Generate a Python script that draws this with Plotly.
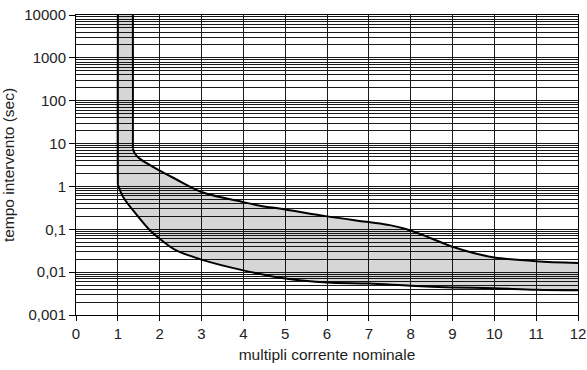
import plotly.graph_objects as go

# Upper boundary of the tripping band
upper_x = [1.36, 1.36, 1.41, 1.53, 1.69, 1.99, 2.37, 3.0, 4.0, 4.4, 5.0, 6.0, 7.0, 7.5, 8.0, 8.5, 9.0, 9.5, 10.0, 11.0, 12.0]
upper_y = [10000, 7.6, 5.8, 4.4, 3.5, 2.36, 1.51, 0.74, 0.43, 0.356, 0.29, 0.20, 0.147, 0.125, 0.094, 0.061, 0.039, 0.028, 0.022, 0.018, 0.0163]

# Lower boundary of the tripping band
lower_x = [1.0, 1.0, 1.13, 1.5, 1.77, 2.0, 2.35, 3.0, 4.0, 5.0, 6.0, 7.0, 8.0, 9.0, 10.0, 11.0, 12.0]
lower_y = [10000, 1.1, 0.56, 0.19, 0.094, 0.060, 0.034, 0.0196, 0.011, 0.0071, 0.0057, 0.0054, 0.0048, 0.0044, 0.0042, 0.0039, 0.0038]

x_ticks = list(range(0, 13))
y_tickvals = [0.001, 0.01, 0.1, 1, 10, 100, 1000, 10000]
y_ticktext = ["0,001", "0,01", "0,1", "1", "10", "100", "1000", "10000"]
y_minor = [m * 10 ** e for e in range(-3, 4) for m in range(2, 10)]

FONT = "Liberation Sans, Arial, Helvetica, sans-serif"
GRID = "#1a1a1a"
SMOOTH = 0.9

fig = go.Figure()

# shaded band: lower curve (invisible) then upper curve filled to it
fig.add_trace(go.Scatter(
    x=lower_x, y=lower_y, mode="lines",
    line=dict(width=0, shape="spline", smoothing=SMOOTH),
    hoverinfo="skip", showlegend=False,
))
fig.add_trace(go.Scatter(
    x=upper_x, y=upper_y, mode="lines", fill="tonexty",
    fillcolor="rgba(0,0,0,0.16)",
    line=dict(width=0, shape="spline", smoothing=SMOOTH),
    hoverinfo="skip", showlegend=False,
))
# boundary lines: straight vertical part + smooth curve part
for xs, ys in ((upper_x, upper_y), (lower_x, lower_y)):
    fig.add_trace(go.Scatter(
        x=xs[:2], y=ys[:2], mode="lines",
        line=dict(color="black", width=2),
        showlegend=False,
    ))
    fig.add_trace(go.Scatter(
        x=xs[1:], y=ys[1:], mode="lines",
        line=dict(color="black", width=2, shape="spline", smoothing=SMOOTH),
        showlegend=False,
    ))

fig.update_layout(
    width=587, height=370,
    margin=dict(l=76, r=9, t=15, b=55),
    paper_bgcolor="white", plot_bgcolor="white",
    font=dict(family=FONT, size=15, color="#222"),
    showlegend=False,
)
fig.update_xaxes(
    range=[0, 12], tickvals=x_ticks, ticktext=[str(v) for v in x_ticks],
    showgrid=True, gridcolor=GRID, gridwidth=1,
    showline=True, linecolor="black", linewidth=1, mirror=True,
    ticks="outside", ticklen=5, tickcolor="black",
    zeroline=False, automargin=False, ticklabeloverflow="allow",
    title=dict(text="multipli corrente nominale", font=dict(size=15.5), standoff=8),
)
fig.update_yaxes(
    type="log", range=[-3, 4],
    tickvals=y_tickvals, ticktext=y_ticktext,
    showgrid=True, gridcolor=GRID, gridwidth=1,
    minor=dict(tickmode="array", tickvals=y_minor, showgrid=True, gridcolor=GRID, gridwidth=1, ticks=""),
    showline=True, linecolor="black", linewidth=1, mirror=True,
    ticks="outside", ticklen=6, tickcolor="black",
    zeroline=False, automargin=False, ticklabeloverflow="allow",
    title=dict(text="tempo intervento (sec)", font=dict(size=15.5), standoff=6),
)

fig.write_html("out.html", config={"displayModeBar": False},
               post_script="document.body.style.margin='0';")
